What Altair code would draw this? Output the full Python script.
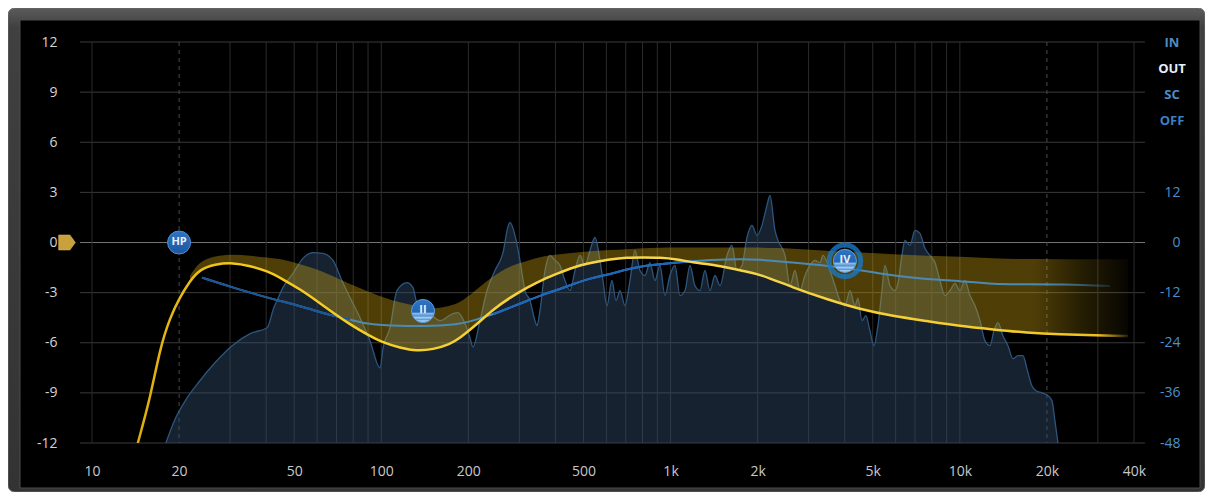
import altair as alt
import pandas as pd

# ---------------- values ----------------
# Analyser spectrum: (frequency Hz, level dB on the right-hand scale)
spectrum = [
    (18.0, -48.0), (19.4, -42.2), (21.0, -37.9), (23.6, -33.1), (26.6, -28.8),
    (30.5, -24.7), (35.2, -21.8), (40.3, -20.4), (42.5, -15.6), (43.6, -13.9),
    (45.7, -10.8), (49.5, -7.4), (53.6, -3.8), (58.1, -2.4), (62.9, -2.6),
    (68.1, -4.3), (73.1, -9.1), (78.0, -13.2), (84.4, -18.0), (91.4, -23.5),
    (99.0, -30.0), (101.4, -25.2), (107.2, -20.4), (113.3, -11.5), (122.7, -9.6),
    (128.7, -10.8), (132.9, -14.6), (143.9, -16.3), (159.6, -18.7), (176.9, -17.0),
    (184.1, -16.8), (194.7, -19.4), (202.6, -22.8), (207.5, -25.0), (219.4, -18.7),
    (232.0, -11.5), (247.2, -6.7), (263.5, -2.4), (274.2, 3.8), (278.6, 4.8),
    (289.9, 1.7), (301.6, -4.3), (313.9, -11.5), (326.6, -13.9), (339.8, -18.7),
    (345.2, -19.9), (353.7, -16.3), (368.1, -6.7), (383.0, -3.1), (398.6, -4.3),
    (414.8, -5.5), (431.5, -9.1), (449.1, -11.5), (467.3, -6.7), (486.3, -3.1),
    (506.0, -5.5), (526.6, -1.9), (548.0, 1.2), (570.2, -4.3), (583.9, -9.1),
    (602.8, -15.1), (627.3, -9.1), (647.6, -13.9), (668.6, -11.5), (695.7, -15.1),
    (724.0, -9.1), (753.4, -1.9), (784.0, -6.7), (815.8, -7.9), (848.9, -4.8),
    (883.4, -9.1), (919.2, -5.5), (956.5, -12.7), (995, -7.9), (1036, -5.5),
    (1078, -12.7), (1122, -11.5), (1167, -5.5), (1214, -10.3), (1264, -11.5),
    (1315, -6.7), (1368, -11.5), (1424, -7.9), (1482, -10.3), (1567, -3.1),
    (1630, -0.7), (1696, -6.7), (1766, -5.5), (1837, 1.2), (1912, 4.1),
    (1990, 1.7), (2070, 4.1), (2154, 8.9), (2206, 11.3), (2296, 2.9),
    (2352, 0.5), (2486, -3.1), (2587, -10.3), (2692, -6.7), (2801, -11.5),
    (2915, -7.9), (3033, -5.5), (3156, -4.3), (3285, -4.8), (3364, -3.1),
    (3556, -6.7), (3701, -10.3), (3851, -13.9), (4007, -15.1), (4170, -11.5),
    (4340, -15.1), (4445, -13.4), (4588, -18.7), (4736, -17.5), (4889, -21.1),
    (5047, -24.7), (5210, -19.9), (5379, -11.5), (5509, -5.5), (5733, -10.3),
    (5966, -11.5), (6109, -9.8), (6307, -3.1), (6459, 0.5), (6721, -0.7),
    (6995, 2.9), (7279, 2.2), (7575, -1.4), (7883, -3.1), (8202, -4.8),
    (8536, -9.1), (8883, -12.7), (9245, -11.5), (9620, -9.8), (10010, -11.5),
    (10410, -9.1), (10840, -12.7), (11280, -15.1), (11740, -18.7), (12210, -23.5),
    (12710, -24.7), (13120, -21.1), (13540, -19.2), (14090, -22.3), (14670, -24.7),
    (15260, -27.8), (15880, -27.1), (16520, -27.1), (17060, -30.2), (17750, -34.3),
    (18330, -35.5), (19220, -36.0), (20160, -36.7), (20820, -37.9), (21320, -42.7),
    (21840, -48.0),
]

# Static EQ curve (yellow): (frequency Hz, gain dB)
eq_curve = [
    (14.4, -12.0), (15.9, -9.3), (17.2, -6.3), (18.6, -4.5), (20.1, -3.3),
    (21.8, -2.3), (23.6, -1.6), (26.6, -1.3), (30.7, -1.2), (35.2, -1.4),
    (40.3, -1.7), (45.7, -2.2), (52.4, -2.8), (59.9, -3.5), (68.1, -4.2),
    (78.0, -4.9), (89.2, -5.5), (101.4, -6.0), (116.0, -6.3), (132.9, -6.5),
    (150.9, -6.4), (172.8, -6.1), (187.1, -5.7), (207.5, -5.1), (243.3, -4.0),
    (278.6, -3.3), (318.9, -2.7), (362.2, -2.2), (414.8, -1.8), (474.8, -1.4),
    (539.3, -1.2), (617.3, -1.0), (707.0, -0.9), (802.9, -0.9), (919.2, -0.9),
    (1052, -1.0), (1195, -1.2), (1368, -1.3), (1567, -1.5), (1780, -1.7),
    (2037, -1.9), (2649, -2.7), (3472, -3.4), (4517, -4.0), (5872, -4.4),
    (7697, -4.7), (10010, -5.0), (13010, -5.2), (17060, -5.4), (22180, -5.5),
    (29310, -5.55), (38120, -5.6),
]

# Dynamic range band (gold): (frequency Hz, upper dB, lower dB)
dyn_band = [
    (21.8, -2.0, -2.3), (23.6, -1.1, -1.6), (26.6, -0.8, -1.3), (30.7, -0.7, -1.2),
    (35.2, -0.8, -1.4), (40.3, -0.9, -1.7), (45.7, -1.0, -2.2), (52.4, -1.3, -2.8),
    (59.9, -1.6, -3.5), (68.1, -2.0, -4.2), (78.0, -2.5, -4.9), (89.2, -2.9, -5.5),
    (101.4, -3.3, -6.0), (116.0, -3.6, -6.3), (132.9, -3.8, -6.5), (150.9, -4.0, -6.4),
    (172.8, -3.8, -6.1), (187.1, -3.6, -5.7), (207.5, -3.0, -5.1), (243.3, -2.0, -4.0),
    (278.6, -1.4, -3.3), (318.9, -1.1, -2.7), (362.2, -0.8, -2.2), (414.8, -0.7, -1.8),
    (474.8, -0.6, -1.4), (539.3, -0.5, -1.2), (617.3, -0.45, -1.0), (707.0, -0.4, -0.9),
    (802.9, -0.35, -0.9), (919.2, -0.3, -0.9), (1052, -0.3, -1.0), (1195, -0.3, -1.2),
    (1368, -0.3, -1.3), (1567, -0.3, -1.5), (1780, -0.3, -1.7), (2037, -0.3, -1.9),
    (2649, -0.35, -2.7), (3472, -0.5, -3.4), (4517, -0.6, -4.0), (5872, -0.7, -4.4),
    (7697, -0.8, -4.7), (10010, -0.85, -5.0), (13010, -0.95, -5.2), (17060, -1.0, -5.4),
    (22180, -1.0, -5.5), (29310, -1.0, -5.55), (38120, -1.0, -5.6),
]

# Blue (dynamic) curve: (frequency Hz, gain dB)
blue_curve = [
    (24.0, -2.1), (30.7, -2.7), (40.3, -3.3), (52.4, -3.8), (68.1, -4.4),
    (78.0, -4.6), (89.2, -4.9), (116.0, -5.0), (150.9, -5.0), (187.1, -4.9),
    (214.2, -4.6), (243.3, -4.3), (278.6, -3.9), (318.9, -3.5), (362.2, -3.1),
    (414.8, -2.8), (474.8, -2.4), (539.3, -2.1), (617.3, -1.9), (707.0, -1.6),
    (802.9, -1.4), (919.2, -1.3), (1052, -1.2), (1195, -1.1), (1567, -1.0),
    (2037, -1.0), (2649, -1.2), (3472, -1.4), (4007, -1.5), (5872, -2.0),
    (7697, -2.2), (10010, -2.3), (13010, -2.5), (17060, -2.5), (22180, -2.5),
    (33030, -2.6),
]

# Band nodes
node_names = ["HP", "II", "IV"]
node_freq = [20, 139.4, 4007]
node_gain = [0.0, -4.1, -1.1]

# Axis values / labels
db_ticks = [12, 9, 6, 3, 0, -3, -6, -9, -12]
level_ticks = [12, 0, -12, -24, -36, -48]
freq_labels = [10, 20, 50, 100, 200, 500, 1000, 2000, 5000, 10000, 20000, 40000]
freq_grid = [10, 20, 30, 40, 50, 60, 70, 80, 90,
             100, 200, 300, 400, 500, 600, 700, 800, 900,
             1000, 2000, 3000, 4000, 5000, 6000, 7000, 8000, 9000,
             10000, 20000, 30000, 40000]
dashed_freqs = [20, 20000]
meter_labels = ["IN", "OUT", "SC", "OFF"]
output_gain = [0.0]

# ---------------- chart ----------------
W, H = 1042, 401
FONT = "Open Sans"


def lin_grad(stops, vertical=False):
    return alt.LinearGradient(
        gradient="linear",
        stops=[alt.GradientStop(offset=o, color=c) for o, c in stops],
        x1=0, y1=0, x2=0 if vertical else 1, y2=1 if vertical else 0,
    )


xs = alt.Scale(type="log", domain=[10, 40000], nice=False)
ys_left = alt.Scale(domain=[-12, 12], nice=False, zero=False)
ys_right = alt.Scale(domain=[-48, 48], nice=False, zero=False)

x_axis = alt.Axis(
    values=freq_labels,
    labelExpr="datum.value >= 1000 ? (datum.value / 1000) + 'k' : '' + datum.value",
    grid=False, ticks=False, domain=False, title=None,
    labelColor="#c8c8c8", labelFontSize=14, labelFont=FONT,
    labelPadding=21, labelFlush=False, labelOverlap=False, zindex=2,
)
left_axis = alt.Axis(
    values=db_ticks, labelExpr="'' + datum.value",
    grid=False, ticks=False, domain=False, title=None,
    labelColor="#d4d4d4", labelFontSize=14, labelFont=FONT,
    labelPadding=35, labelOverlap=False, zindex=2,
)
right_axis = alt.Axis(
    orient="right", values=level_ticks, labelExpr="'' + datum.value",
    grid=False, ticks=False, domain=False, title=None,
    labelColor="#4b91c9", labelFontSize=14, labelFont=FONT,
    labelAlign="right", labelPadding=46, labelOverlap=False, zindex=2,
)


def X(field):
    return alt.X(field, type="quantitative", scale=xs, axis=x_axis)


def YL(field):
    return alt.Y(field, type="quantitative", scale=ys_left, axis=left_axis)


one = pd.DataFrame({"a": [0]})

# frame (bezel + black panel)
frame_outer = alt.Chart(one).mark_rect(
    fill=lin_grad([(0, "#5c5c5c"), (0.04, "#404040"), (1, "#333333")], vertical=True),
    stroke="#6a6a6a", strokeWidth=1, cornerRadius=7,
).encode(x=alt.value(-84), x2=alt.value(1113), y=alt.value(-34), y2=alt.value(450))
frame_inner = alt.Chart(one).mark_rect(
    fill="#000000", stroke="#4d4d4d", strokeWidth=1,
).encode(x=alt.value(-72), x2=alt.value(1108), y=alt.value(-22), y2=alt.value(446))
frame_layer = alt.layer(frame_outer, frame_inner)

# grid
hgrid = alt.Chart(pd.DataFrame({"g": db_ticks})).mark_rule(strokeWidth=1).encode(
    y=alt.Y("g:Q", scale=ys_left, axis=None),
    x=alt.value(-12), x2=alt.value(W + 11),
    color=alt.condition("datum.g == 0", alt.value("#747474"), alt.value("#3a3a3a")),
)
vgrid_df = pd.DataFrame({"v": freq_grid})
vgrid_df["dashed"] = vgrid_df["v"].isin(dashed_freqs)
vgrid = alt.Chart(vgrid_df).mark_rule(strokeWidth=1).encode(
    x=X("v"),
    y=alt.value(0), y2=alt.value(H),
    color=alt.condition("datum.dashed", alt.value("#4a4a4a"), alt.value("#2b2b2b")),
    strokeDash=alt.condition("datum.dashed", alt.value([4, 4]), alt.value([1, 0])),
)
grid_layer = alt.layer(hgrid, vgrid)

# analyser spectrum (right scale)
spec_df = pd.DataFrame(spectrum, columns=["f", "level"])
spec_fill = alt.Chart(spec_df).mark_area(
    fill="#345273", fillOpacity=0.42, interpolate="monotone",
).encode(
    x=X("f"),
    y=alt.Y("level:Q", scale=ys_right, axis=right_axis),
    y2=alt.datum(-48),
)
spec_line = alt.Chart(spec_df).mark_line(
    color="#2d5a84", strokeWidth=1.3, opacity=0.95, interpolate="monotone",
).encode(
    x=X("f"),
    y=alt.Y("level:Q", scale=ys_right, axis=right_axis),
)
spec_layer = alt.layer(spec_fill, spec_line)

# gold dynamic band
band_df = pd.DataFrame(dyn_band, columns=["f", "hi", "lo"])
band = alt.Chart(band_df).mark_area(
    fill=lin_grad([(0, "rgba(212,168,18,0.37)"), (0.9, "rgba(212,168,18,0.37)"),
                   (0.95, "rgba(212,168,18,0.18)"), (1, "rgba(212,168,18,0.03)")]),
    interpolate="basis",
).encode(x=X("f"), y=YL("hi"), y2="lo:Q")

# blue dynamic curve
blue_df = pd.DataFrame(blue_curve, columns=["f", "g"])
teal = alt.Chart(blue_df).mark_line(
    stroke=lin_grad([(0, "#4a8ab6"), (0.93, "#4a8ab6"), (1, "rgba(74,138,182,0.2)")]),
    strokeWidth=2, interpolate="basis",
).encode(x=X("f"), y=YL("g"))
dark = alt.Chart(blue_df).transform_filter(
    "datum.f <= 78 || (datum.f >= 243 && datum.f <= 1195)"
).transform_calculate(seg="datum.f <= 78 ? 0 : 1").mark_line(
    strokeWidth=2, interpolate="basis",
).encode(
    x=X("f"), y=YL("g"), detail="seg:N",
    color=alt.condition("datum.seg == 0", alt.value("#1a5596"), alt.value("#1c66be")),
)

# yellow EQ curve
eq_df = pd.DataFrame(eq_curve, columns=["f", "g"])
eq_line = alt.Chart(eq_df).mark_line(
    stroke=lin_grad([(0, "#dcae0c"), (0.1, "#f3c91a"), (0.55, "#f6d750"),
                     (0.9, "#f2cb2a"), (0.97, "#eec020"), (1, "rgba(238,192,32,0.15)")]),
    strokeWidth=2.5, interpolate="basis", clip=True,
).encode(x=X("f"), y=YL("g"))

# output gain marker on the left
gain_marker = alt.Chart(pd.DataFrame({"g": output_gain})).mark_point(
    shape="M -1 -0.9 L 0.35 -0.9 L 1 0 L 0.35 0.9 L -1 0.9 Z",
    filled=True, fill="#c9a13c", stroke="#e0bd60", strokeWidth=0.5, size=280, opacity=1,
).encode(x=alt.value(-25), y=YL("g"))

# nodes
nodes_df = pd.DataFrame({"name": node_names, "f": node_freq, "g": node_gain})
glow = alt.Chart(nodes_df).transform_filter("datum.name == 'IV'").mark_point(
    shape="circle", filled=False, size=1000, stroke="#1a78c4", strokeWidth=5, opacity=0.8,
).encode(x=X("f"), y=YL("g"))
node_hp = alt.Chart(nodes_df).transform_filter("datum.name == 'HP'").mark_point(
    shape="circle", filled=True, size=530, opacity=1,
    fill=lin_grad([(0, "#2f74c2"), (1, "#1b56a0")], vertical=True),
    stroke="#4d8fd6", strokeWidth=1,
).encode(x=X("f"), y=YL("g"))
node_band = alt.Chart(nodes_df).transform_filter("datum.name != 'HP'").mark_point(
    shape="circle", filled=True, size=530, opacity=1,
    fill=lin_grad([(0, "#2f74c2"), (0.55, "#2466b2"), (0.6, "#8fbfea"),
                   (0.72, "#4f8fd0"), (0.78, "#a6cdf2"), (0.88, "#5a98d6"),
                   (0.93, "#b2d6f5"), (1, "#7fb2e6")], vertical=True),
    stroke="#5c9ee0", strokeWidth=1,
).encode(x=X("f"), y=YL("g"))
node_text = alt.Chart(nodes_df).mark_text(
    font=FONT, fontSize=11, fontWeight="bold", color="#e6eff9", dy=-1,
).encode(x=X("f"), y=YL("g"), text="name:N")

rest_layer = alt.layer(band, teal, dark, eq_line, gain_marker, glow, node_hp, node_band, node_text)

# meter source labels (top right)
meter_colors = ["#4d8cc0", "#e6f0f8", "#4a8fc6", "#3f7ebe"]
meter_parts = []
for i, lab in enumerate(meter_labels):
    meter_parts.append(
        alt.Chart(pd.DataFrame({"t": [lab]})).mark_text(
            font=FONT, fontSize=13, fontWeight="bold", color=meter_colors[i],
            align="center", baseline="middle",
        ).encode(text="t:N", x=alt.value(1080), y=alt.value(1 + 26 * i))
    )
meter_layer = alt.layer(*meter_parts)

chart = alt.layer(
    frame_layer, grid_layer, spec_layer, rest_layer, meter_layer
).resolve_scale(y="independent").properties(
    width=W, height=H,
    padding={"left": 84, "top": 34, "right": 71, "bottom": 49},
    autosize=alt.AutoSizeParams(type="none"),
    background="white",
).configure_view(stroke=None)

chart.save("out.html", embed_options={"renderer": "svg", "actions": False})
